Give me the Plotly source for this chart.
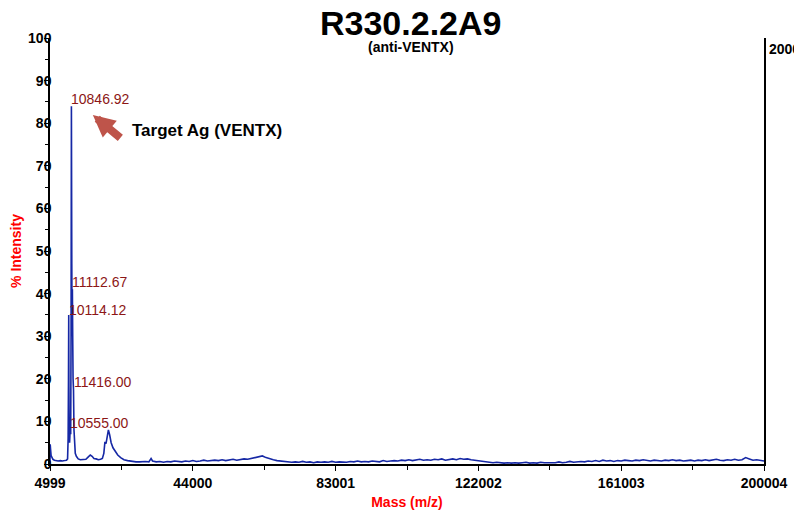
import plotly.graph_objects as go

# ---- data ----
mass = [4999, 5050, 5150, 5300, 5500, 5800, 6200, 6700, 7200, 7800, 8400, 9000, 9500, 9800,
        9950, 10050, 10114.12, 10170, 10250, 10350, 10450, 10555.00, 10650, 10750, 10846.92,
        10950, 11040, 11112.67, 11200, 11300, 11416.00, 11550, 11700, 11900, 12200, 12700,
        13300, 14000, 14800, 15400, 16000, 16500, 17000, 17600, 18200, 18800, 19300, 19700,
        20000, 20300, 20600, 20950, 21300, 21700, 22200, 22800, 23500, 24300, 25200, 26200,
        27500, 28500, 29500, 30300, 31000, 32000, 32600, 33000, 34000, 35000, 36000, 37000,
        38000, 39000, 40000, 41000, 42000, 43000, 44000, 45000, 46000, 47000, 48000, 49000,
        50000, 51000, 52000, 53000, 54000, 55000, 56000, 57000, 58000, 59000, 60000, 61000,
        62000, 63000, 64000, 65000, 66000, 67000, 68000, 69000, 70000, 71000, 72000, 73000,
        74000, 75000, 76000, 77000, 78000, 79000, 80000, 81000, 82000, 83000, 84000, 85000,
        86000, 87000, 88000, 89000, 90000, 91000, 92000, 93000, 94000, 95000, 96000, 97000,
        98000, 99000, 100000, 101000, 102000, 103000, 104000, 105000, 106000, 107000, 108000,
        109000, 110000, 111000, 112000, 113000, 114000, 115000, 116000, 117000, 118000, 119000,
        120000, 121000, 122000, 123000, 124000, 125000, 126000, 127000, 128000, 129000, 130000,
        131000, 132000, 133000, 134000, 135000, 136000, 137000, 138000, 139000, 140000, 141000,
        142000, 143000, 144000, 145000, 146000, 147000, 148000, 149000, 150000, 151000, 152000,
        153000, 154000, 155000, 156000, 157000, 158000, 159000, 160000, 161000, 162000, 163000,
        164000, 165000, 166000, 167000, 168000, 169000, 170000, 171000, 172000, 173000, 174000,
        175000, 176000, 177000, 178000, 179000, 180000, 181000, 182000, 183000, 184000, 185000,
        186000, 187000, 188000, 189000, 190000, 191000, 192000, 193000, 194000, 195000, 196000,
        197000, 198000, 199000, 200004]

intensity = [0.3, 4.6, 3.5, 2.0, 1.4, 1.1, 0.9, 0.8, 0.7, 0.8, 0.7, 0.8, 0.9, 1.2,
             6.0, 20.0, 35.0, 18.0, 8.0, 5.0, 7.0, 8.0, 7.0, 30.0, 84.0,
             47.0, 30.0, 41.0, 30.0, 20.0, 17.5, 8.0, 4.0, 2.5, 1.8, 1.2,
             1.0, 1.0, 1.1, 1.6, 2.1, 1.8, 1.3, 1.2, 1.0, 1.1, 1.3, 2.5,
             5.2, 4.8, 6.5, 8.0, 6.8, 5.0, 3.8, 2.9, 2.1, 1.5, 1.0, 0.8,
             0.6, 0.5, 0.5, 0.6, 0.6, 0.5, 1.3, 0.7, 0.5, 0.6, 0.4, 0.6,
             0.5, 0.7, 0.6, 0.5, 0.7, 0.6, 0.8, 0.6, 0.7, 0.9, 0.7, 0.8,
             0.9, 0.8, 1.0, 0.8, 0.9, 1.1, 0.9, 1.0, 1.2, 1.1, 1.3, 1.4,
             1.6, 1.9, 1.5, 1.2, 1.0, 0.8, 0.7, 0.6, 0.5, 0.4, 0.5, 0.4,
             0.6, 0.4, 0.5, 0.3, 0.5, 0.4, 0.5, 0.4, 0.6, 0.4, 0.5, 0.5,
             0.4, 0.6, 0.5, 0.7, 0.5, 0.6, 0.5, 0.7, 0.6, 0.5, 0.8, 0.6,
             0.7, 0.8, 0.7, 0.9, 0.8, 1.0, 0.8, 0.9, 1.1, 0.9, 1.0,
             0.9, 1.1, 1.0, 1.2, 0.9, 1.1, 1.2, 1.0, 1.3, 1.1, 1.2,
             1.0, 0.9, 0.8, 0.6, 0.5, 0.4, 0.3, 0.4, 0.3, 0.2, 0.3,
             0.2, 0.3, 0.2, 0.3, 0.4, 0.2, 0.3, 0.2, 0.4, 0.3, 0.3,
             0.4, 0.3, 0.5, 0.3, 0.4, 0.6, 0.4, 0.5, 0.6, 0.5, 0.7,
             0.6, 0.8, 0.6, 0.9, 0.7, 0.8, 0.6, 0.8, 0.7, 0.9, 0.8,
             0.7, 0.9, 0.8, 1.0, 0.8, 0.7, 0.9, 0.8, 0.7, 0.9, 0.8,
             1.0, 0.8, 0.9, 0.7, 0.8, 0.9, 0.7, 0.9, 0.8, 1.0, 0.8,
             0.9, 1.1, 0.9, 0.8, 1.0, 0.9, 1.1, 0.9, 1.0, 1.5, 1.2,
             0.9, 1.0, 0.8, 0.7]

peak_labels = ["10846.92", "11112.67", "10114.12", "11416.00", "10555.00"]
peak_mass = [10846.92, 11112.67, 10114.12, 11416.00, 10555.00]
peak_int = [84.0, 41.0, 34.5, 17.5, 8.0]

x_ticks = [4999, 44000, 83001, 122002, 161003, 200004]
y_ticks = [0, 10, 20, 30, 40, 50, 60, 70, 80, 90, 100]

title_text = "R330.2.2A9"
subtitle_text = "(anti-VENTX)"
target_text = "Target Ag (VENTX)"
max_count_text = "2000"

FONT = "Liberation Sans"
LABEL_RED = "rgb(140,22,22)"

fig = go.Figure()
fig.add_trace(go.Scatter(x=mass, y=intensity, mode="lines",
                         line=dict(color="rgb(22,40,165)", width=1.6),
                         hoverinfo="x+y", showlegend=False))

for lab, m, v in zip(peak_labels, peak_mass, peak_int):
    fig.add_annotation(x=m, y=v, xref="x", yref="y", text=lab, showarrow=False,
                       xanchor="left", yanchor="bottom", xshift=-2, yshift=-3,
                       font=dict(family=FONT, size=14, color=LABEL_RED))

# arrow pointing to target peak label
fig.add_annotation(x=16700, y=81.9, xref="x", yref="y", text="", showarrow=True,
                   ax=29, ay=24, arrowhead=2, arrowsize=0.55, arrowwidth=8,
                   arrowcolor="rgb(190,84,74)")
fig.add_annotation(x=0.112, y=0.782, xref="paper", yref="paper", text=target_text,
                   showarrow=False, xanchor="left", yanchor="middle",
                   font=dict(family=FONT, size=17, color="black", weight="bold"))

# title & subtitle
fig.add_annotation(x=0.505, y=1.035, xref="paper", yref="paper",
                   text=title_text, showarrow=False, xanchor="center", yanchor="middle",
                   font=dict(family=FONT, size=34, color="black", weight="bold"))
fig.add_annotation(x=0.505, y=0.979, xref="paper", yref="paper",
                   text=subtitle_text, showarrow=False, xanchor="center", yanchor="middle",
                   font=dict(family=FONT, size=14, color="black", weight="bold"))
fig.add_annotation(x=1.0, y=1.0, xref="paper", yref="paper", xshift=3, yshift=-1,
                   text=max_count_text, showarrow=False, xanchor="left", yanchor="top",
                   font=dict(family=FONT, size=14, color="black", weight="bold"))

# the page body adds an 8 px offset, so the figure is 8 px smaller than the window
fig.update_layout(
    width=794, height=505,
    margin=dict(l=42, r=38, t=30, b=49, autoexpand=False),
    plot_bgcolor="white", paper_bgcolor="white",
    font=dict(family=FONT),
    xaxis=dict(range=[4999, 200004], tickvals=x_ticks, automargin=False,
               ticktext=[str(v) for v in x_ticks],
               showgrid=False, zeroline=False, showline=True, linecolor="black",
               linewidth=1.5, ticks="outside", ticklen=5, tickcolor="black",
               minor=dict(tickvals=[24499.5, 63500.5, 102501.5, 141502.5, 180503.5],
                          ticks="outside", ticklen=4, tickcolor="black"),
               tickfont=dict(family=FONT, size=14, color="black", weight="bold"),
               title=dict(text="Mass (m/z)", standoff=8,
                          font=dict(family=FONT, size=14, color="red", weight="bold"))),
    yaxis=dict(range=[0, 100], tickvals=y_ticks, automargin=False,
               showgrid=False, zeroline=False, showline=True, linecolor="black",
               linewidth=1.5, mirror=True, ticks="outside", ticklen=4, tickcolor="black",
               ticklabelstandoff=-10,
               minor=dict(dtick=5, ticks="outside", ticklen=3, tickcolor="black"),
               tickfont=dict(family=FONT, size=14, color="black", weight="bold"),
               title=dict(text="% Intensity", standoff=6,
                          font=dict(family=FONT, size=14, color="red", weight="bold"))),
)

fig.write_html("out.html")
